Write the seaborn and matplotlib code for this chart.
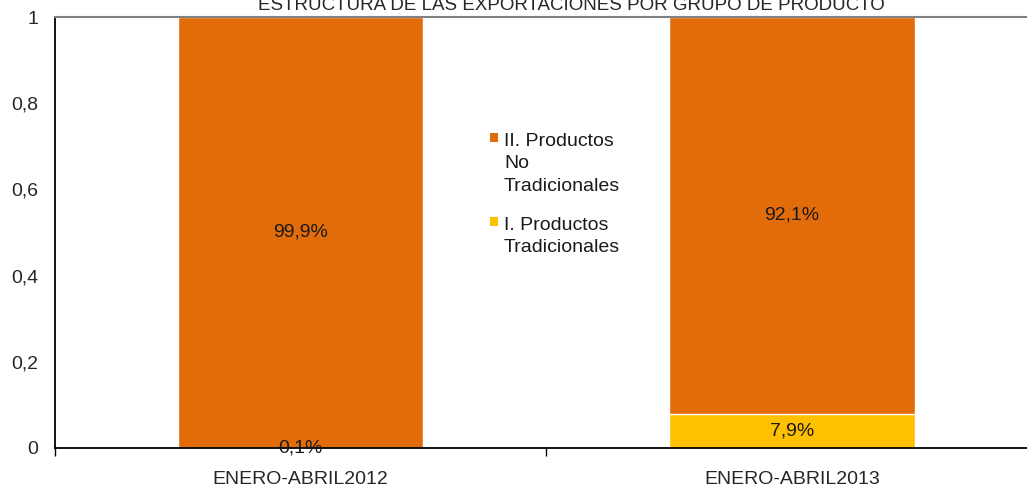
import numpy as np
import pandas as pd
import seaborn as sns
import matplotlib.pyplot as plt
from matplotlib.patches import Rectangle
from matplotlib.ticker import FuncFormatter

periodos = ['ENERO-ABRIL2012', 'ENERO-ABRIL2013']
tradicionales = [0.001, 0.079]
no_tradicionales = [0.999, 0.921]
etiquetas_trad = ['0,1%', '7,9%']
etiquetas_no_trad = ['99,9%', '92,1%']
serie_names = ['II. Productos\nNo\nTradicionales', 'I. Productos\nTradicionales']
colores = ['#E36C0A', '#FFC000']

sns.set_style('white')
plt.rcParams['font.family'] = ['Liberation Sans', 'DejaVu Sans']
fs = 14

data = pd.DataFrame({'periodo': periodos,
                     'trad': tradicionales,
                     'no_trad': no_tradicionales})
data['total'] = data['trad'] + data['no_trad']

fig = plt.figure(figsize=(10.27, 4.87), dpi=100)
ax = fig.add_axes([55 / 1027, 1 - 448 / 487, 982.5 / 1027, 431 / 487])

# apilado: primero el total, luego la parte de abajo encima
sns.barplot(data=data, x='periodo', y='total', color=colores[0], width=0.5,
            saturation=1, ax=ax)
sns.barplot(data=data, x='periodo', y='trad', color=colores[1], width=0.5,
            saturation=1, ax=ax)

for i in range(len(periodos)):
    ax.text(i, data['trad'][i] / 2, etiquetas_trad[i], ha='center', va='center',
            fontsize=fs, color='#1a1a1a')
    ax.text(i, data['trad'][i] + data['no_trad'][i] / 2, etiquetas_no_trad[i],
            ha='center', va='center', fontsize=fs, color='#1a1a1a')

ax.set_xlim(-0.5, 1.5)
ax.set_ylim(0, 1)
ax.set_yticks([0, 0.2, 0.4, 0.6, 0.8, 1])
ax.yaxis.set_major_formatter(FuncFormatter(lambda v, p: ('%g' % round(v, 1)).replace('.', ',')))
ax.set_xticks([0, 1])
ax.set_xticks([-0.5, 0.5, 1.5], minor=True)
ax.set_xlabel('')
ax.set_ylabel('')

ax.tick_params(axis='x', which='major', length=0, pad=16.5, labelsize=fs)
ax.tick_params(axis='x', which='minor', length=6, width=1, color='black', direction='out', bottom=True)
ax.tick_params(axis='y', length=4.3, width=1, color='black', direction='out', pad=7.5, labelsize=fs)

for s in ['left', 'bottom']:
    ax.spines[s].set_color('black')
    ax.spines[s].set_linewidth(1.3)
ax.spines['top'].set_color('#808080')
ax.spines['top'].set_linewidth(1.5)
ax.spines['right'].set_visible(False)

# leyenda a mano: el cuadro va alineado con la primera linea del texto
W, H = 1027, 487
for name, c, y_top in zip(serie_names, colores, [131, 215]):
    fig.patches.append(Rectangle((490 / W, 1 - (y_top + 11) / H), 8 / W, 9 / H,
                                 transform=fig.transFigure, facecolor=c, edgecolor='none'))
    fig.text(504 / W, 1 - (y_top + 2) / H, name, ha='left', va='top', fontsize=fs,
             linespacing=1.42, color='#1a1a1a')

fig.text(571 / W, 1 - 10 / H, 'ESTRUCTURA DE LAS EXPORTACIONES POR GRUPO DE PRODUCTO',
         ha='center', va='baseline', fontsize=13.5)

fig.savefig('out.png', dpi=100)
